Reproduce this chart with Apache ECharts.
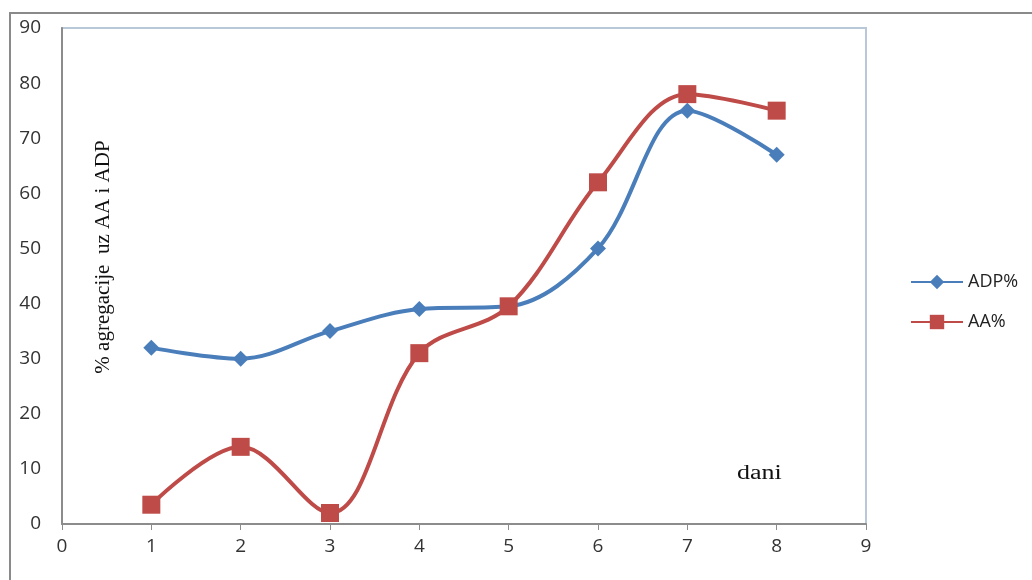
<!DOCTYPE html>
<html><head><meta charset="utf-8">
<script src="https://cdn.jsdelivr.net/npm/echarts@6/dist/echarts.min.js"></script>
<style>html,body{margin:0;padding:0;background:#fff}#c{width:1032px;height:580px}</style>
</head><body><div id="c"></div>
<script>
const days = [1, 2, 3, 4, 5, 6, 7, 8];
const adp = [32, 30, 35, 39, 39.5, 50, 75, 67];
const aa = [3.5, 14, 2, 31, 39.5, 62, 78, 75];
const xTicks = [0, 1, 2, 3, 4, 5, 6, 7, 8, 9];
const yTicks = [0, 10, 20, 30, 40, 50, 60, 70, 80, 90];

const chart = echarts.init(document.getElementById('c'));
const lblFont = {fontFamily: 'Open Sans', fontSize: 19, color: '#333'};
chart.setOption({
  animation: false,
  grid: {left: 62, right: 166, top: 28, bottom: 56, show: true, borderColor: '#b8c8d8', borderWidth: 2, backgroundColor: 'transparent'},
  xAxis: {
    type: 'value', min: xTicks[0], max: xTicks[xTicks.length - 1], interval: 1,
    axisLine: {show: true, onZero: false, lineStyle: {color: '#8c8c8c', width: 2}},
    axisTick: {show: true, length: 6, lineStyle: {color: '#8c8c8c'}},
    splitLine: {show: false},
    axisLabel: Object.assign({margin: 13}, lblFont)
  },
  yAxis: {
    type: 'value', min: yTicks[0], max: yTicks[yTicks.length - 1], interval: 10,
    axisLine: {show: true, lineStyle: {color: '#8c8c8c', width: 2}},
    axisTick: {show: false},
    splitLine: {show: false},
    axisLabel: Object.assign({margin: 21}, lblFont)
  },
  legend: {
    orient: 'vertical', left: 905, top: 268, itemGap: 22, itemWidth: 52, itemHeight: 18,
    textStyle: {fontFamily: 'Open Sans', fontSize: 18, color: '#222'},
    data: ['ADP%', 'AA%']
  },
  graphic: [
    {type: 'rect', shape: {x: 10, y: 13, width: 1030, height: 600}, style: {fill: 'none', stroke: '#8a8a8a', lineWidth: 2}, silent: true},
    {type: 'text', x: 103, y: 257, rotation: Math.PI / 2, style: {text: '% agregacije  uz AA i ADP', font: '21px "Liberation Serif"', fill: '#111', textAlign: 'center', textVerticalAlign: 'middle'}},
    {type: 'text', x: 737, y: 464, scaleX: 1.3, style: {text: 'dani', font: '20px "Liberation Serif"', fill: '#111'}}
  ],
  series: [
    {
      name: 'ADP%', type: 'line', smooth: 0.35,
      data: days.map((d, i) => [d, adp[i]]),
      symbol: 'diamond', symbolSize: 16,
      lineStyle: {color: '#4a7ebb', width: 4},
      itemStyle: {color: '#4a7ebb'}
    },
    {
      name: 'AA%', type: 'line', smooth: 0.35,
      data: days.map((d, i) => [d, aa[i]]),
      symbol: 'rect', symbolSize: 18,
      lineStyle: {color: '#be4b48', width: 4},
      itemStyle: {color: '#be4b48'}
    }
  ]
});
</script></body></html>
